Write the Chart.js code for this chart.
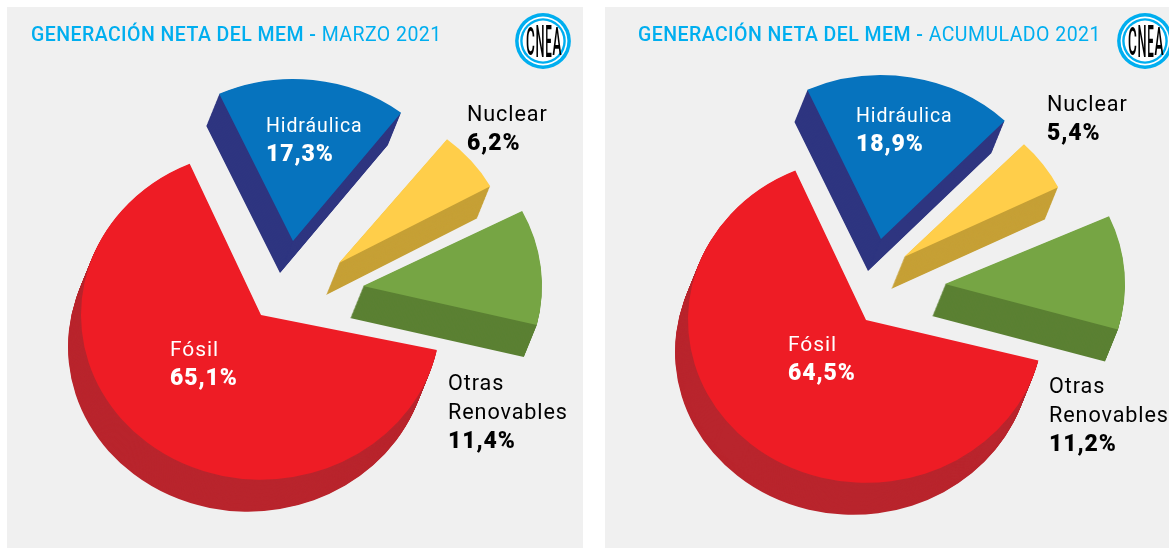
<!DOCTYPE html>
<html>
<head>
<meta charset="utf-8">
<title>Generación neta del MEM</title>
<script src="https://cdn.jsdelivr.net/npm/chart.js@4/dist/chart.umd.min.js"></script>
<style>
  html, body { margin: 0; padding: 0; background: #fff; width: 1169px; height: 548px; overflow: hidden; }
  .panel { position: absolute; top: 7px; height: 541px; background: #f0f0f0; overflow: hidden; }
  #panelA { left: 7px; width: 576px; }
  #panelB { left: 605px; width: 564px; }
  canvas { position: absolute; left: 0; top: 0; }
  .title { position: absolute; top: 16px; font: 400 19.5px Roboto, sans-serif; color: #00aeef; letter-spacing: .45px; white-space: nowrap; }
  .title b { font-weight: 500; }
  #panelA .title { left: 24px; }
  #panelB .title { left: 33px; }
  .logo { position: absolute; top: 6px; width: 56px; height: 56px; }
  #panelA .logo { left: 508px; }
  #panelB .logo { left: 512px; }
</style>
</head>
<body>
<svg width="0" height="0" style="position:absolute">
  <symbol id="cnea" viewBox="0 0 56 56">
    <circle cx="28" cy="28" r="27.9" fill="#00aeef"/>
    <circle cx="28" cy="28" r="24.4" fill="#fff"/>
    <circle cx="28" cy="28" r="22.8" fill="#00aeef"/>
    <circle cx="28" cy="28" r="20.4" fill="#fff"/>
    <g font-family="Roboto, sans-serif" font-weight="500" fill="#000" text-anchor="middle">
      <text transform="translate(15.5 41.5) scale(.5 1.41)" font-size="27">C</text>
      <text transform="translate(25 44) scale(.44 1.55)" font-size="29">N</text>
      <text transform="translate(33.5 44) scale(.4 1.55)" font-size="29">E</text>
      <text transform="translate(42 41.5) scale(.5 1.41)" font-size="27">A</text>
    </g>
  </symbol>
</svg>

<div class="panel" id="panelA">
  <canvas id="pieA" width="576" height="541"></canvas>
  <div class="title"><b>GENERACIÓN NETA DEL MEM -</b> MARZO 2021</div>
  <svg class="logo"><use href="#cnea"/></svg>
</div>
<div class="panel" id="panelB">
  <canvas id="pieB" width="564" height="541"></canvas>
  <div class="title"><b>GENERACIÓN NETA DEL MEM -</b> ACUMULADO 2021</div>
  <svg class="logo"><use href="#cnea"/></svg>
</div>

<script>
const categories = ['Fósil', 'Hidráulica', 'Nuclear', 'Otras Renovables'];
const marzoValues = [65.1, 17.3, 6.2, 11.4];
const acumuladoValues = [64.5, 18.9, 5.4, 11.2];

const topColors = ['#ee1c25', '#0673be', '#ffce4a', '#76a544'];
const sideColors = ['#b9252d', '#2e3580', '#c6a036', '#5b8033'];
const labelColors = ['#fff', '#fff', '#000', '#000'];
const labelSizes = [21, 19.5, 21.6, 21.6];

const TILT = 0.915; // pie is squashed a little vertically
const DEPTH = [-13, 32];
const FONT = 'Roboto, sans-serif';

// turns the flat pie into the exploded "3d" look
function pie3d(cfg) {
  return {
    id: 'pie3d',
    beforeDatasetsDraw(chart) {
      const ctx = chart.ctx;
      const arcs = chart.getDatasetMeta(0).data;
      const cx = (chart.chartArea.left + chart.chartArea.right) / 2;
      const cy = (chart.chartArea.top + chart.chartArea.bottom) / 2;

      const squash = () => {
        ctx.translate(cx, cy);
        ctx.scale(1, TILT);
        ctx.translate(-cx, -cy);
      };

      // each slice sits a little apart and slightly turned, like in the original artwork
      if (!chart.$turned) {
        arcs.forEach((arc, i) => {
          const turn = cfg.turn[i] * Math.PI / 180;
          arc.startAngle += turn;
          arc.endAngle += turn;
        });
        chart.$turned = true;
      }
      arcs.forEach((arc, i) => {
        arc.x = cx + cfg.shift[i][0];
        arc.y = cy + cfg.shift[i][1] / TILT;
        arc.outerRadius = cfg.radii[i];
      });

      // side walls: the same arcs stacked along the depth direction
      arcs.forEach((arc, i) => {
        const opts = arc.options;
        arc.options = Object.assign({}, opts, { backgroundColor: sideColors[i] });
        for (let k = 40; k >= 1; k--) {
          ctx.save();
          ctx.translate(DEPTH[0] * k / 40, DEPTH[1] * k / 40);
          squash();
          arc.draw(ctx);
          ctx.restore();
        }
        arc.options = opts;
      });

      ctx.save();
      squash();
    },
    afterDatasetsDraw(chart) {
      const ctx = chart.ctx;
      ctx.restore();

      ctx.save();
      ctx.textAlign = 'left';
      ctx.textBaseline = 'alphabetic';
      cfg.labels.forEach((pos, i) => {
        const lines = categories[i] === 'Otras Renovables' ? ['Otras', 'Renovables'] : [categories[i]];
        ctx.fillStyle = labelColors[i];
        ctx.letterSpacing = '0.9px';
        ctx.font = '400 ' + labelSizes[i] + 'px ' + FONT;
        lines.forEach((line, n) => ctx.fillText(line, pos[0], pos[1] + n * 29));
        ctx.font = '900 23px ' + FONT;
        const pct = cfg.values[i].toFixed(1).replace('.', ',') + '%';
        ctx.fillText(pct, pos[0], pos[1] + lines.length * 29);
      });
      ctx.restore();
    },
  };
}

function makePie(id, cfg) {
  new Chart(document.getElementById(id), {
    type: 'pie',
    data: {
      labels: categories,
      datasets: [{
        data: cfg.values,
        backgroundColor: topColors,
        borderWidth: 0,
        clip: false,
      }],
    },
    options: {
      responsive: false,
      animation: false,
      rotation: cfg.rotation,
      radius: 180,
      layout: { padding: cfg.padding },
      plugins: {
        legend: { display: false },
        tooltip: { enabled: false },
      },
    },
    plugins: [pie3d(cfg)],
  });
}

makePie('pieA', {
  values: marzoValues,
  rotation: 102,
  padding: { right: 68, top: 75 },
  shift: [[0, 0], [32, -74], [78, -52], [102, -29]],
  turn: [0.3, -1, 0, 1.8],
  radii: [180, 177, 173, 179],
  labels: [[163, 349], [259, 125], [460, 114], [441, 383]],
});

makePie('pieB', {
  values: acumuladoValues,
  rotation: 104,
  padding: { right: 42, top: 85 },
  shift: [[0, 0], [15, -81], [38, -63], [79, -36]],
  turn: [0.4, -0.5, 0, 2],
  radii: [178, 179, 172, 180],
  labels: [[183, 344], [251, 115], [442, 104], [444, 386]],
});
</script>
</body>
</html>
